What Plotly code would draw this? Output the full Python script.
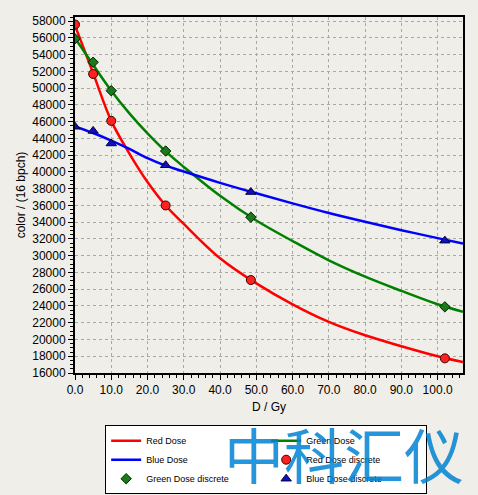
import plotly.graph_objects as go

# fitted curves
curve_x = [0, 5, 10, 15, 20, 25, 30, 40, 50, 60, 70, 80, 90, 100, 107]
red_curve = [57500, 51800, 46100, 42200, 38800, 36000, 33800, 29700,
             26700, 24200, 22100, 20500, 19200, 18000, 17300]
green_curve = [56000, 52800, 49700, 47000, 44600, 42450, 40600, 37150,
               34200, 31750, 29450, 27500, 25800, 24200, 23300]
blue_curve = [45450, 44650, 43750, 42750, 41650, 40750, 40050, 38700,
              37450, 36250, 35100, 34050, 33050, 32100, 31450]

# measured points
dose = [0, 5, 10, 25, 48.5, 102]
red_pts = [57600, 51700, 46100, 36000, 27100, 17750]
green_pts = [55900, 53100, 49700, 42500, 34600, 23900]
blue_pts = [45400, 44900, 43400, 40800, 37600, 31800]

BG = "#f0eee8"

fig = go.Figure()

# order chosen so the horizontal legend fills two columns
fig.add_trace(go.Scatter(x=curve_x, y=red_curve, mode="lines", name="Red Dose",
                         line=dict(color="#ff0000", width=2.5, shape="spline")))
fig.add_trace(go.Scatter(x=curve_x, y=green_curve, mode="lines", name="Green Dose",
                         line=dict(color="#008000", width=2.5, shape="spline")))
fig.add_trace(go.Scatter(x=curve_x, y=blue_curve, mode="lines", name="Blue Dose",
                         line=dict(color="#0000ff", width=2.5, shape="spline")))
fig.add_trace(go.Scatter(x=dose, y=red_pts, mode="markers", name="Red Dose discrete",
                         marker=dict(symbol="circle", size=9, color="#ff2020",
                                     line=dict(color="#400000", width=1))))
fig.add_trace(go.Scatter(x=dose, y=green_pts, mode="markers", name="Green Dose discrete",
                         marker=dict(symbol="diamond", size=8, color="#1a7a1a",
                                     line=dict(color="#002000", width=1))))
fig.add_trace(go.Scatter(x=dose, y=blue_pts, mode="markers", name="Blue Dose discrete",
                         marker=dict(symbol="triangle-up", size=9, color="#1010c0",
                                     line=dict(color="#000040", width=1))))

axis_common = dict(
    showline=True, linecolor="black", linewidth=2, mirror=True,
    ticks="outside", ticklen=5, tickcolor="black",
    showgrid=True, gridcolor="#a8a8a8", griddash="dot", gridwidth=1,
    zeroline=False, tickfont=dict(size=12, color="black"),
)

fig.update_xaxes(
    range=[0, 107], dtick=10, tick0=0, tickformat=".1f",
    title=dict(text="D / Gy", font=dict(size=12, color="black"), standoff=6),
    minor=dict(dtick=2, ticks="outside", ticklen=3, tickcolor="black", showgrid=False),
    **axis_common,
)
fig.update_yaxes(
    range=[16000, 58500], dtick=2000, tick0=16000, tickformat="d",
    title=dict(text="color / (16 bpch)", font=dict(size=12, color="black"), standoff=4),
    minor=dict(dtick=500, ticks="outside", ticklen=3, tickcolor="black", showgrid=False),
    **axis_common,
)

fig.update_layout(
    width=478, height=495,
    margin=dict(l=75, r=15, t=17, b=122),
    paper_bgcolor=BG, plot_bgcolor=BG,
    font=dict(family="Liberation Sans, Arial, sans-serif", size=12, color="black"),
    showlegend=True,
    legend=dict(
        orientation="h", xref="container", yref="container",
        x=0.22, y=0.141, xanchor="left", yanchor="top",
        entrywidth=115, entrywidthmode="pixels",
        bgcolor="white", bordercolor="black", borderwidth=1,
        font=dict(size=9), tracegroupgap=0, itemwidth=30,
    ),
)

# watermark over the legend
fig.add_annotation(
    text="中科汇仪", xref="paper", yref="paper", x=0.693, y=-0.222,
    xanchor="center", yanchor="middle", showarrow=False,
    font=dict(family="Noto Sans CJK SC", size=60, color="rgba(0,130,210,0.85)"),
)

# drop the browser's default body margin so the figure sits at the window's corner
fig.write_html("out.html", config={"displayModeBar": False},
               post_script="document.body.style.margin='0';")
